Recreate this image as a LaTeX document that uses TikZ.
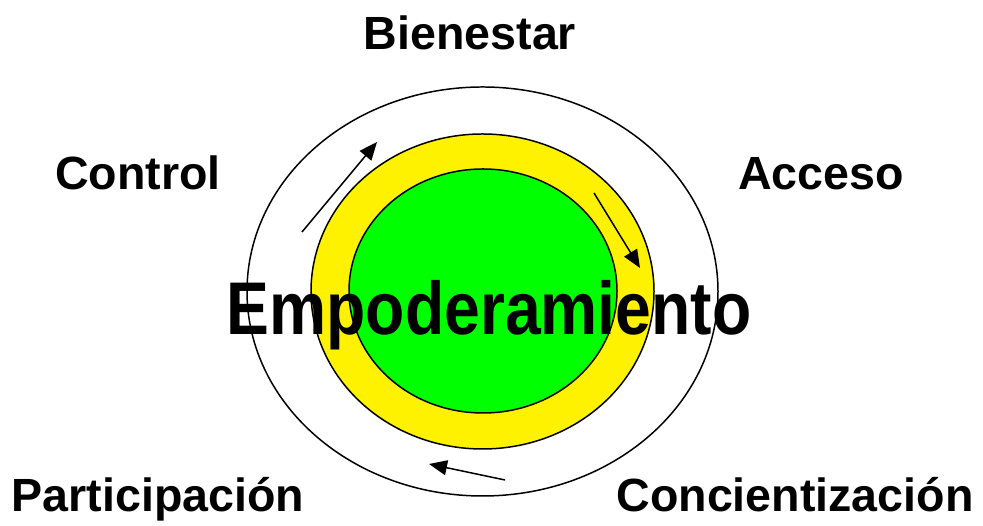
\documentclass[tikz,border=0pt]{standalone}
\usepackage{fontspec}
\setmainfont{Liberation Sans}
\usetikzlibrary{arrows.meta}

\begin{document}
\begin{tikzpicture}
\tikzset{
  ring/.style={draw=black, line width=0.85pt},
  lbl/.style={anchor=base, font=\fontsize{26.5}{30}\selectfont\bfseries},
  flow/.style={line width=0.85pt, -{Triangle[length=0.36cm,width=0.3cm]}}
}
\useasboundingbox (0,0) rectangle (19.66,10.52);

\draw[ring] (9.65,4.69) ellipse (4.71 and 4.09);
\draw[ring, fill=yellow] (9.65,4.69) ellipse (3.43 and 3.15);
\draw[ring, fill=green] (9.66,4.70) ellipse (2.68 and 2.44);

\draw[flow] (6.04,5.88) -- (7.54,7.68);
\draw[flow] (11.88,6.66) -- (12.80,5.16);
\draw[flow] (10.10,0.92) -- (8.58,1.24);

\node[anchor=base, font=\fontsize{42.5}{48}\selectfont\bfseries, xscale=0.86] (centro) at (9.78,3.82) {Empoderamiento};

\node[lbl] (bienestar) at (9.40,9.52) {Bienestar};
\node[lbl] (control) at (2.76,6.72) {Control};
\node[lbl] (acceso) at (16.42,6.72) {Acceso};
\node[lbl] (participacion) at (3.16,0.28) {Participación};
\node[lbl] (concientizacion) at (15.90,0.28) {Concientización};

\end{tikzpicture}
\end{document}
